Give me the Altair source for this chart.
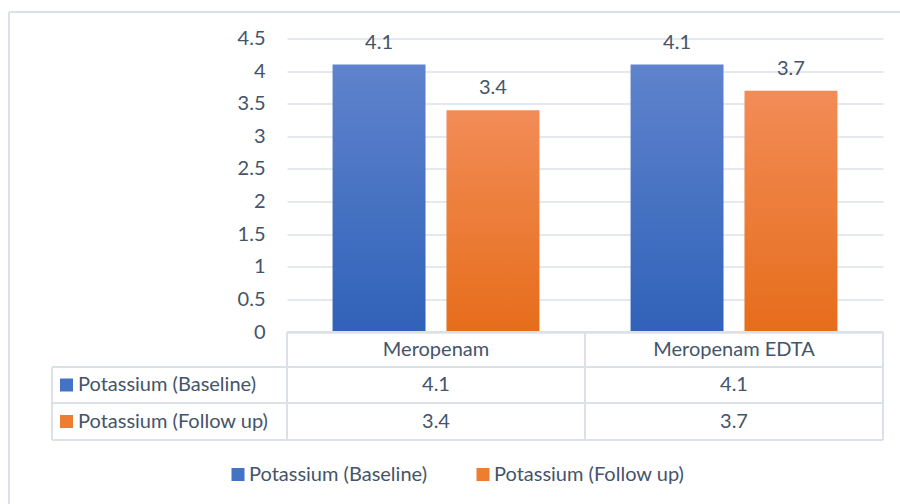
import altair as alt
import pandas as pd

# Serum potassium per treatment group
categories = ["Meropenam", "Meropenam EDTA"]
series = ["Potassium (Baseline)", "Potassium (Follow up)"]
baseline = [4.1, 4.1]
follow_up = [3.4, 3.7]
y_ticks = [0, 0.5, 1, 1.5, 2, 2.5, 3, 3.5, 4, 4.5]

rows = []
for cat, b, f in zip(categories, baseline, follow_up):
    rows.append({"Category": cat, "Series": series[0], "Value": b})
    rows.append({"Category": cat, "Series": series[1], "Value": f})
df = pd.DataFrame(rows)

TEXT = "#44546A"
GRID = "#DCE1E7"
FONT = "Lato"
FS = 20
BLUE, ORANGE = "#4472C4", "#ED7D31"
fills = {
    series[0]: ("#5F83CC", "#3062B9"),
    series[1]: ("#F28C57", "#E66D1B"),
}

W, H = 596, 293.5
blank = pd.DataFrame({"k": [0]})

x_enc = alt.X("Category:N", sort=categories, axis=None,
              scale=alt.Scale(paddingInner=0, paddingOuter=0))
xo_enc = alt.XOffset("Series:N", sort=series,
                     scale=alt.Scale(domain=series, paddingInner=0.184, paddingOuter=0.4))
y_enc = alt.Y("Value:Q", title=None,
              scale=alt.Scale(domain=[0, 4.5], nice=False),
              axis=alt.Axis(values=y_ticks, format="~g", domain=False, ticks=False,
                            labelOverlap=False, labelPadding=22, labelFontSize=FS,
                            labelColor=TEXT, labelFont=FONT,
                            gridColor=GRID, gridWidth=1.5))


def hline(y, x0, x1):
    return alt.Chart(blank).mark_rule(color=GRID, strokeWidth=2).encode(
        x=alt.value(x0), x2=alt.value(x1), y=alt.value(y))


def vline(x, y0, y1):
    return alt.Chart(blank).mark_rule(color=GRID, strokeWidth=2).encode(
        x=alt.value(x), y=alt.value(y0), y2=alt.value(y1))


layers = []

# outer frame (top and left edges)
layers.append(hline(-26.5, -278, 613))
layers.append(vline(-278, -26.5, 466))

# gradient bars, one layer per series
for s in series:
    top, bottom = fills[s]
    grad = alt.Gradient(gradient="linear", x1=0, x2=0, y1=0, y2=1,
                        stops=[alt.GradientStop(color=top, offset=0),
                               alt.GradientStop(color=bottom, offset=1)])
    layers.append(
        alt.Chart(df).transform_filter(alt.datum.Series == s)
        .mark_bar(fill=grad)
        .encode(x=x_enc, xOffset=xo_enc, y=y_enc)
    )

# value labels above bars
layers.append(
    alt.Chart(df).mark_text(dy=-22, fontSize=FS, font=FONT, color=TEXT)
    .encode(x=x_enc, xOffset=xo_enc, y=y_enc,
            text=alt.Text("Value:Q", format=".1f"))
)

# legend carrier (invisible marks, visible legend symbols)
layers.append(
    alt.Chart(df).mark_square(opacity=0)
    .encode(x=x_enc, xOffset=xo_enc, y=y_enc,
            color=alt.Color("Series:N", sort=series,
                            scale=alt.Scale(domain=series, range=[BLUE, ORANGE]),
                            legend=alt.Legend(title=None, orient="none", direction="horizontal",
                                              legendX=-59, legendY=426, padding=0,
                                              symbolType="square", symbolSize=169,
                                              symbolOpacity=1, symbolStrokeWidth=0,
                                              labelFontSize=FS, labelFont=FONT,
                                              labelColor=TEXT, labelOffset=1,
                                              labelLimit=0, columnPadding=46)))
)

# data table grid
y_head, y_r1, y_r2, y_r3 = 293.5, 328.5, 364.5, 401.5
layers += [
    hline(y_head, 0, W),
    hline(y_r1, -235, W),
    hline(y_r2, -235, W),
    hline(y_r3, -235, W),
    vline(0, y_head, y_r3),
    vline(W / 2, y_head, y_r3),
    vline(W, y_head, y_r3),
    vline(-235, y_r1, y_r3),
]

# table header: category names
layers.append(
    alt.Chart(pd.DataFrame({"Category": categories}))
    .mark_text(fontSize=FS, font=FONT, color=TEXT, baseline="middle")
    .encode(x=x_enc, y=alt.value((y_head + y_r1) / 2), text="Category:N")
)

# table rows: legend key, series name and values
row_mid = [(y_r1 + y_r2) / 2, (y_r2 + y_r3) / 2]
for s, col, ym in zip(series, [BLUE, ORANGE], row_mid):
    sub = pd.DataFrame({"Series": [s]})
    layers.append(
        alt.Chart(sub).mark_square(size=169, color=col, opacity=1)
        .encode(x=alt.value(-220.5), y=alt.value(ym))
    )
    layers.append(
        alt.Chart(sub).mark_text(fontSize=FS, font=FONT, color=TEXT,
                                 align="left", baseline="middle")
        .encode(x=alt.value(-209), y=alt.value(ym), text="Series:N")
    )
    layers.append(
        alt.Chart(df).transform_filter(alt.datum.Series == s)
        .mark_text(fontSize=FS, font=FONT, color=TEXT, baseline="middle")
        .encode(x=x_enc, y=alt.value(ym), text=alt.Text("Value:Q", format=".1f"))
    )

chart = (
    alt.layer(*layers)
    .properties(width=W, height=H, background="white",
                padding={"left": 287, "top": 38.5, "right": 17, "bottom": 172},
                autosize=alt.AutoSizeParams(type="none"))
    .configure_view(stroke="transparent", strokeWidth=0)
)

chart.save("out.html", embed_options={"renderer": "svg", "actions": False})
